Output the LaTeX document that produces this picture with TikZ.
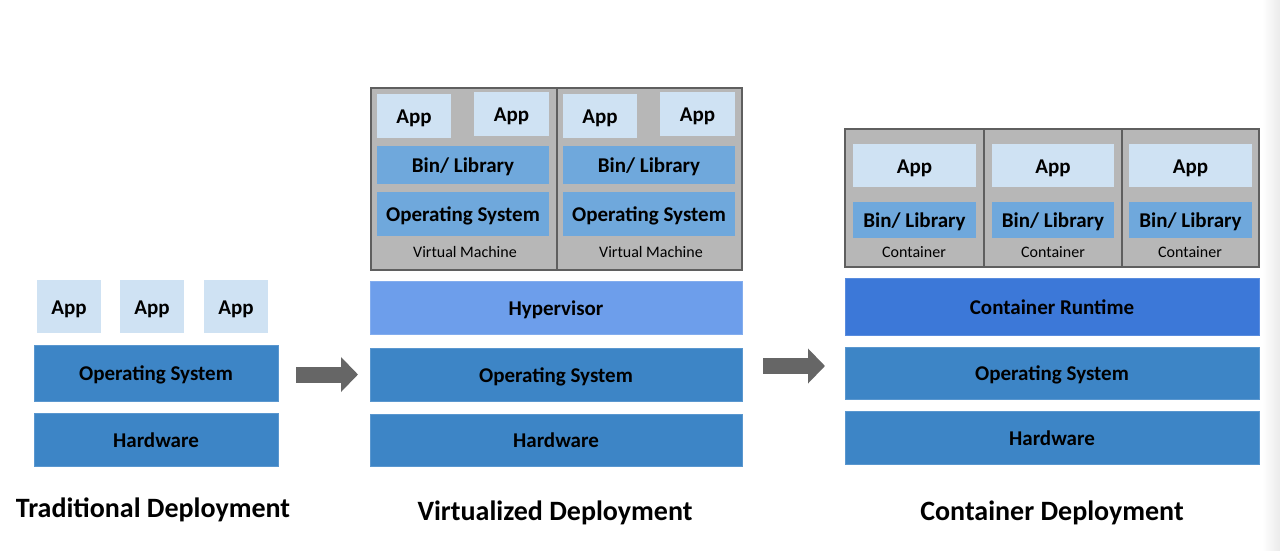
\documentclass[tikz,border=0pt]{standalone}
\usepackage{fontspec}
\setmainfont{Carlito}
\usetikzlibrary{arrows.meta,calc}
\definecolor{appc}{HTML}{CFE2F3}
\definecolor{binc}{HTML}{6FA8DC}
\definecolor{osc}{HTML}{3D85C6}
\definecolor{hypc}{HTML}{6D9EEB}
\definecolor{crc}{HTML}{3C78D8}
\definecolor{grayc}{HTML}{B7B7B7}
\definecolor{grayb}{HTML}{5F5F5F}
\definecolor{arrc}{HTML}{666666}
\newcommand\bx[7]{\node[#1, anchor=north west, minimum width={#5-#3}, minimum height={#6-#4}] (#2) at (#3,#4) {#7};}
\begin{document}
\begin{tikzpicture}[x=1pt,y=-1pt,
  base/.style={inner sep=0pt, outer sep=0pt, text=black, text height=15pt, text depth=0pt, font=\bfseries\fontsize{21}{24}\selectfont},
  appbox/.style={base, fill=appc},
  binbox/.style={base, fill=binc},
  osbox/.style={base, fill=osc, draw=osc!85!white, line width=0.8pt},
  hypbox/.style={base, fill=hypc, draw=hypc!85!white, line width=0.8pt},
  crbox/.style={base, fill=crc, draw=crc!85!white, line width=0.8pt},
  graybox/.style={inner sep=0pt, outer sep=0pt, fill=grayc, draw=grayb, line width=1.2pt},
  lbl/.style={inner sep=0pt, text=black, text height=10pt, text depth=0pt, font=\fontsize{16}{19}\selectfont},
  title/.style={inner sep=0pt, anchor=base, text=black, font=\bfseries\fontsize{28}{32}\selectfont},
  fatarrow/.style={arrc, line width=16pt, -{Triangle[length=17pt,width=34pt]}}
  ]
\useasboundingbox (0,0) rectangle (1280,550);
\shade[left color=white, right color=black!8] (1262,0) rectangle (1280,550);

% Traditional
\bx{appbox}{ta1}{37}{280}{101}{333}{App}
\bx{appbox}{ta2}{120}{280}{184}{333}{App}
\bx{appbox}{ta3}{204}{280}{268}{333}{App}
\bx{osbox}{tos}{34}{345}{278}{401}{Operating System}
\bx{osbox}{thw}{34}{413}{278}{466}{Hardware}
\node[title] (tt) at (153,517) {Traditional Deployment};

% Virtualized
\bx{graybox}{vm1}{371}{88}{557}{270}{}
\bx{graybox}{vm2}{557}{88}{742}{270}{}
\bx{appbox}{va1}{377}{94}{451}{138}{App}
\bx{appbox}{va2}{474}{92}{549}{136}{App}
\bx{appbox}{va3}{563}{94}{637}{138}{App}
\bx{appbox}{va4}{660}{92}{735}{136}{App}
\bx{binbox}{vb1}{377}{146}{549}{184}{Bin/ Library}
\bx{binbox}{vb2}{563}{146}{735}{184}{Bin/ Library}
\bx{binbox}{vo1}{377}{192}{549}{236}{Operating System}
\bx{binbox}{vo2}{563}{192}{735}{236}{Operating System}
\node[lbl] (vl1) at (465,252) {Virtual Machine};
\node[lbl] (vl2) at (651,252) {Virtual Machine};
\bx{hypbox}{vhy}{370}{281}{742}{334}{Hypervisor}
\bx{osbox}{vos}{370}{348}{742}{401}{Operating System}
\bx{osbox}{vhw}{370}{414}{742}{466}{Hardware}
\node[title] (vt) at (555,520) {Virtualized Deployment};

% Container
\bx{graybox}{c1}{845}{129}{984}{267}{}
\bx{graybox}{c2}{984}{129}{1122}{267}{}
\bx{graybox}{c3}{1122}{129}{1259}{267}{}
\bx{appbox}{ca1}{853}{144}{976}{187}{App}
\bx{appbox}{ca2}{992}{144}{1114}{187}{App}
\bx{appbox}{ca3}{1129}{144}{1252}{187}{App}
\bx{binbox}{cb1}{853}{202}{976}{238}{Bin/ Library}
\bx{binbox}{cb2}{992}{202}{1114}{238}{Bin/ Library}
\bx{binbox}{cb3}{1129}{202}{1252}{238}{Bin/ Library}
\node[lbl] (cl1) at (914,252) {Container};
\node[lbl] (cl2) at (1053,252) {Container};
\node[lbl] (cl3) at (1190,252) {Container};
\bx{crbox}{ccr}{845}{278}{1259}{335}{Container Runtime}
\bx{osbox}{cos}{845}{347}{1259}{399}{Operating System}
\bx{osbox}{chw}{845}{411}{1259}{464}{Hardware}
\node[title] (ct) at (1052,520) {Container Deployment};

% Arrows
\coordinate (a1s) at ($(tos.east)+(18,1.5)$);
\coordinate (a1e) at ($(vos.west)+(-12,0)$);
\draw[fatarrow] (a1s) -- (a1s -| a1e);
\coordinate (a2s) at ($(vos.east)+(21,-8.5)$);
\coordinate (a2e) at ($(cos.west)+(-20,0)$);
\draw[fatarrow] (a2s) -- (a2s -| a2e);
\end{tikzpicture}
\end{document}
